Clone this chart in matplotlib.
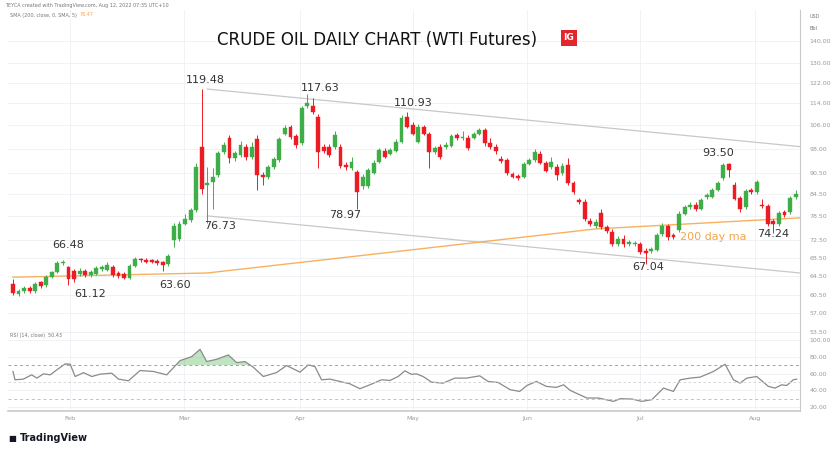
import matplotlib
matplotlib.use("Agg")
import matplotlib.pyplot as plt
import numpy as np
from matplotlib.patches import Rectangle

opens = [62.8,60.8,61.3,62.0,61.3,63.1,62.6,64.3,65.3,67.2,66.4,65.5,64.9,65.5,64.6,64.9,65.9,65.8,66.4,65.1,
64.9,64.0,66.7,68.2,68.0,67.9,67.8,67.4,67.0,72.5,72.9,76.6,77.5,80.1,98.8,87.0,88.0,90.0,97.2,101.5,
95.0,96.2,98.6,95.4,101.2,90.0,89.3,92.3,94.5,103.0,105.5,102.2,99.9,112.9,112.9,108.8,98.6,98.8,98.6,98.6,
93.0,92.0,91.0,86.7,86.7,90.7,94.0,97.5,96.5,97.5,100.4,109.0,106.0,100.4,105.5,103.1,97.2,98.8,98.8,99.1,
102.6,101.5,101.8,101.8,103.1,104.5,99.9,98.8,94.7,94.5,90.2,89.8,89.5,93.4,94.5,96.5,93.7,92.3,92.5,90.5,
93.0,87.7,82.7,82.3,77.3,76.1,79.3,75.7,74.5,71.7,72.9,71.7,71.6,71.6,70.1,70.1,70.3,74.0,76.1,73.7,
75.0,79.2,80.9,81.6,80.5,83.7,83.7,85.7,89.0,93.3,87.0,83.5,80.9,85.5,85.0,81.6,81.3,77.2,76.6,79.6,
79.6,83.7]
closes = [60.9,61.3,62.0,61.3,62.8,62.4,64.3,65.3,67.2,67.6,63.9,63.9,65.5,64.6,65.4,66.2,66.4,66.9,64.6,64.4,
64.1,66.7,68.2,67.9,67.6,67.6,67.2,66.9,68.9,76.1,76.6,77.7,80.1,92.5,86.0,87.5,89.5,96.7,99.4,95.0,
96.7,99.4,95.4,98.6,90.0,89.3,92.3,94.7,101.3,105.0,102.0,99.4,112.1,114.0,110.6,97.2,97.5,96.2,102.6,92.7,
92.3,94.0,85.0,89.5,91.5,93.7,97.7,95.6,97.7,100.4,108.5,105.5,103.1,105.5,103.1,97.2,98.2,95.4,99.4,102.3,
101.5,102.0,98.2,102.9,104.3,99.9,98.6,97.5,94.3,90.5,89.5,89.0,93.4,94.5,97.2,93.7,91.3,94.0,90.0,92.7,
87.5,85.0,82.3,77.9,76.6,77.0,75.7,74.8,71.6,72.9,71.6,71.9,71.9,69.7,69.5,70.5,73.7,76.1,73.3,73.3,
79.2,81.0,81.6,80.5,82.9,84.2,85.7,87.5,93.0,91.5,83.2,80.5,85.3,85.0,87.9,81.1,76.6,76.4,79.3,78.8,
83.4,84.4]
highs = [63.9,61.8,62.4,62.4,63.2,63.4,64.6,65.6,67.7,67.9,66.7,66.0,66.2,66.0,65.8,66.6,66.8,67.5,66.8,65.5,
65.3,67.0,68.6,68.5,68.3,68.2,68.1,67.8,69.3,76.8,77.4,79.0,80.8,93.5,119.48,92.5,92.0,97.5,100.4,102.5,
97.5,100.8,99.5,100.4,102.5,91.0,93.0,95.5,102.0,106.0,106.2,103.0,113.0,117.63,116.0,110.0,99.5,99.6,104.0,99.5,
93.8,95.5,91.5,90.2,92.2,94.5,98.5,98.2,98.4,101.2,109.5,110.93,107.2,106.5,106.2,103.8,99.0,99.5,100.2,103.0,
103.5,104.0,102.5,103.6,105.2,105.0,101.5,99.5,95.8,95.0,90.8,90.3,94.0,95.2,98.0,97.5,94.3,95.5,93.2,93.5,
95.0,88.2,83.5,83.0,78.0,77.8,80.5,76.2,75.2,73.6,73.8,72.6,72.4,72.2,70.6,71.0,74.2,76.8,76.6,74.3,
79.8,81.6,82.4,82.2,83.4,84.8,86.3,88.1,93.5,93.5,88.0,84.0,86.0,86.2,88.6,83.0,81.8,77.8,80.0,80.2,
84.0,85.5]
lows = [60.5,60.4,60.9,60.9,61.0,62.0,62.2,64.0,65.0,66.9,62.5,63.2,64.5,64.2,64.2,64.6,65.5,65.5,64.2,64.0,
63.8,63.8,66.4,67.6,67.3,67.3,66.9,65.5,66.7,71.0,72.4,76.2,77.0,79.5,84.5,76.73,80.5,89.5,96.5,93.5,
94.2,95.6,94.5,94.8,85.5,87.0,88.8,91.8,94.0,102.5,101.3,98.5,99.2,112.3,110.0,92.0,96.8,95.5,98.0,92.0,
91.5,91.5,80.5,86.0,86.2,90.2,93.5,95.0,96.0,97.0,100.0,105.0,102.6,100.0,102.5,92.0,96.5,94.8,98.0,98.6,
101.0,101.0,97.6,101.2,102.6,99.0,98.0,96.5,93.5,90.0,89.0,88.5,89.0,93.0,94.0,93.2,90.8,91.8,88.5,90.0,
87.0,84.5,81.8,77.4,76.1,75.6,75.2,74.3,71.1,71.2,71.0,71.2,71.1,69.2,67.04,69.6,69.9,73.6,72.6,72.8,
74.6,78.8,80.5,80.0,80.1,83.2,83.3,85.2,88.5,89.5,82.7,79.5,80.4,84.5,84.5,80.6,76.0,74.24,76.1,78.3,
79.1,83.2]

ma_idx = [0, 35, 70, 105, 141.8]
ma_val = [64.2, 65.1, 70.0, 75.3, 78.1]

upper_idx = [35, 141.8]; upper_val = [119.48, 98.8]
lower_idx = [35, 141.8]; lower_val = [78.6, 65.1]

rsi_idx = [0,0.36,1.86,3.36,4.3,5.5,6.7,7.9,9.4,10.3,11.2,12.7,14.2,15.7,17.8,19,20.8,22.9,25.3,27.7,
30.1,32.2,33.7,34.9,36.7,38.8,40.3,41.8,43.3,45.1,47.5,49.3,51.7,53.2,54.4,55.6,57.1,58.9,60.7,62.5,
64.3,66.4,67.9,69.4,70.6,71.8,72.7,73.9,75.4,77.5,79.6,81.7,84.1,85.6,87.4,89.6,91.3,92.6,94.3,96.1,
97.9,99.2,100.4,103.4,105.5,108.2,109.4,111.5,113.3,115.1,117.2,119.0,120.2,122,123.8,126.2,128.3,129.8,131,132.2,
134,136.1,137.3,138.5,139.4,140.6,141.2]
rsi_val = [62.4,52.5,53.3,58.4,54.5,59.6,58.4,64.4,71.5,71.1,56.4,61.0,56.4,59.2,60.4,53.3,51.3,63.6,62.4,58.4,
75.4,80.2,88.9,74.3,77.0,82.2,73.0,74.3,67.5,56.4,61.2,69.5,61.6,70.3,68.3,52.5,53.3,50.5,47.7,41.8,
46.5,52.5,51.7,56.4,63.2,59.0,59.6,56.4,49.7,48.5,54.5,54.5,57.2,50.5,49.3,40.6,38.6,45.7,50.5,44.6,
43.4,46.5,39.8,30.7,30.7,26.7,29.9,29.5,26.7,28.7,42.6,38.6,52.5,54.5,55.7,62.4,71.1,52.5,48.5,54.5,
56.4,44.6,42.6,46.5,45.7,52.5,53.3]

month_labels = ["Feb","Mar","Apr","May","Jun","Jul","Aug"]
month_pos = [10.3,30.8,51.7,72.1,92.6,113,133.7]
price_ticks = [140.00,130.00,122.00,114.00,106.00,98.00,90.50,84.50,78.50,72.50,68.50,64.50,60.50,57.00,53.50]
rsi_ticks = [100,80,60,40,20]

W, H = 832, 451
fig = plt.figure(figsize=(W/100, H/100), dpi=100)
fig.patch.set_facecolor("white")

def fx(px): return px / W
def fy(py): return 1 - py / H

ax = fig.add_axes([fx(8), fy(333), fx(800) - fx(8), fy(10) - fy(333)])
axr = fig.add_axes([fx(8), fy(411), fx(800) - fx(8), fy(333) - fy(411)], sharex=ax)

GREEN = "#3fae49"; RED = "#ec1c24"; GRID = "#eef0f4"; TXT = "#9a9a9a"
n = len(opens)
w = 0.7
for i in range(n):
    o, c, h, l = opens[i], closes[i], highs[i], lows[i]
    col = GREEN if c >= o else RED
    ax.vlines(i, l, h, color=col, lw=0.7, zorder=3)
    lo, hi = min(o, c), max(o, c)
    if hi - lo < 0.3:
        hi = lo + 0.3
    ax.add_patch(Rectangle((i - w/2, lo), w, hi - lo, facecolor=col, edgecolor=col, lw=0.3, zorder=4))

ax.plot(ma_idx, ma_val, color="#f7b15e", lw=1.0, zorder=2)
ax.plot(upper_idx, upper_val, color="#c8c8c8", lw=0.9, zorder=1)
ax.plot(lower_idx, lower_val, color="#c8c8c8", lw=0.9, zorder=1)

ax.set_yscale("log")
ax.set_ylim(53.4, 155.1)
ax.set_xlim(-0.9, 141.8)
ax.yaxis.set_major_locator(matplotlib.ticker.FixedLocator(price_ticks))
ax.yaxis.set_minor_locator(matplotlib.ticker.NullLocator())
ax.set_yticklabels([f"{t:.2f}" for t in price_ticks])
ax.yaxis.tick_right()
for a in (ax, axr):
    a.tick_params(axis="y", length=0, labelsize=4.5, labelcolor=TXT, pad=7)
    a.tick_params(axis="x", length=0, labelsize=4.5, labelcolor=TXT)
    a.grid(True, color=GRID, lw=0.6)
    a.set_axisbelow(True)
    for s in ("top", "left"):
        a.spines[s].set_visible(False)
    a.spines["right"].set_color("#c9c9c9")
    a.spines["bottom"].set_color("#e6e6e6")
ax.tick_params(axis="x", labelbottom=False)
ax.set_xticks(month_pos)

axr.plot(rsi_idx, rsi_val, color="#8a8a8a", lw=0.9)
rv = np.array(rsi_val); ri = np.array(rsi_idx)
axr.fill_between(ri, 70, rv, where=rv > 70, interpolate=True, color="#4caf50", alpha=0.35, lw=0)
axr.axhline(70, color="#f08080", lw=0.7, ls=(0, (3, 3)))
axr.axhline(50, color="#d0d0d0", lw=0.6, ls=(0, (3, 3)))
axr.axhline(30, color="#9ed99e", lw=0.7, ls=(0, (3, 3)))
axr.set_ylim(15.2, 108.4)
axr.set_yticks(rsi_ticks)
axr.set_yticklabels([f"{t:.2f}" for t in rsi_ticks])
axr.yaxis.tick_right()
axr.set_xticks(month_pos)
axr.set_xticklabels(month_labels)
axr.spines["bottom"].set_color("#c9c9c9"); axr.spines["bottom"].set_linewidth(1.2)

def at(px, py, s, **kw):
    fig.text(fx(px), fy(py), s, ha="center", va="center", fontsize=8, color="#333333", **kw)
at(205, 80, "119.48"); at(320, 88, "117.63"); at(413, 103, "110.93")
at(220, 226, "76.73"); at(345, 215, "78.97"); at(68, 245, "66.48")
at(90, 294, "61.12"); at(175, 285, "63.60"); at(648, 267, "67.04")
at(718, 153, "93.50"); at(773, 234, "74.24")
fig.text(fx(713), fy(237), "200 day ma", ha="center", va="center", fontsize=8, color="#f5a54a")

fig.text(fx(377), fy(40), "CRUDE OIL DAILY CHART (WTI Futures)", ha="center", va="center",
         fontsize=12, color="#111111", family="DejaVu Sans")
fig.patches.append(Rectangle((fx(561), fy(46)), fx(16), fy(30) - fy(46), transform=fig.transFigure,
                             facecolor="#e4262c", edgecolor="none"))
fig.text(fx(569), fy(38), "IG", ha="center", va="center", fontsize=6.5, color="white", weight="bold")

fig.text(fx(5), fy(5), "TEYCA created with TradingView.com, Aug 12, 2022 07:35 UTC+10", fontsize=3.5, color="#777777", va="center")
fig.text(fx(10), fy(15), "SMA (200, close, 0, SMA, 5)", fontsize=3.5, color="#777777", va="center")
fig.text(fx(80), fy(15), "76.47", fontsize=3.5, color="#f5a54a", va="center")
fig.text(fx(10), fy(335), "RSI (14, close)  50.43", fontsize=3.5, color="#777777", va="center")
fig.text(fx(810), fy(16), "USD", fontsize=3.5, color="#777777", va="center")
fig.text(fx(810), fy(29), "Bbl", fontsize=3.5, color="#777777", va="center")
fig.text(fx(8), fy(438), "\u25a0", fontsize=6, color="#131722", va="center")
fig.text(fx(20), fy(438), "TradingView", fontsize=7, color="#131722", va="center", weight="bold")

fig.savefig("out.png", dpi=100, facecolor="white")
